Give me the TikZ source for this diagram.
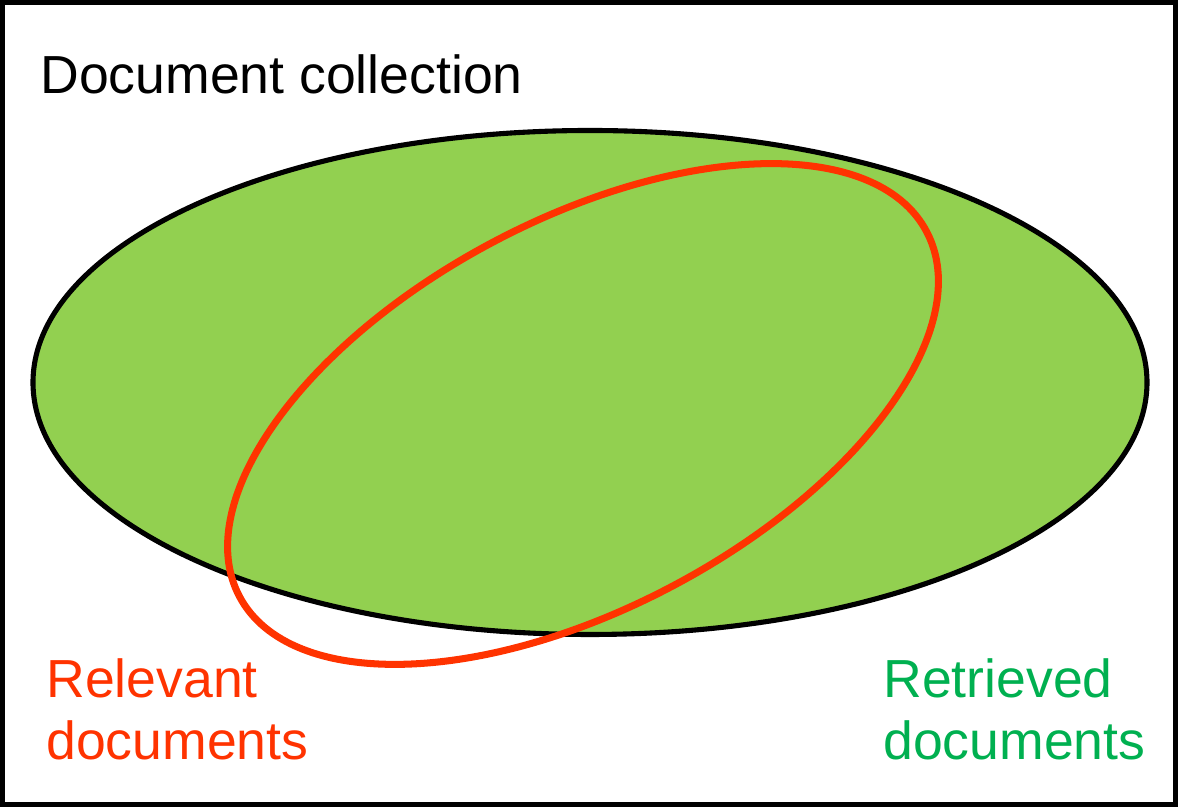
\documentclass[tikz,border=0pt]{standalone}
\usepackage{fontspec}
\setmainfont{Liberation Sans}
\usepackage{tikz}
\usetikzlibrary{calc}

\definecolor{collgreen}{HTML}{92D050}
\definecolor{relred}{HTML}{FF3300}
\definecolor{retgreen}{HTML}{00B050}

\tikzset{
    setlabel/.style={anchor=base west, inner sep=0pt, align=left,
        font=\fontsize{30.5}{35.7}\selectfont}
}

\begin{document}
\begin{tikzpicture}[x=0.02cm, y=0.02cm]
            \useasboundingbox (0,0) rectangle (1178,807);
            \draw[line width=2.8pt] (2.5,2.5) rectangle (1175.5,804.5);

            % retrieved set and relevant set
            \draw[fill=collgreen, line width=2.9pt] (590,424.5) ellipse (557 and 252);
            \draw[relred, line width=4pt, rotate around={28:(583,393)}] (583,393) ellipse (389 and 194);

            \node[setlabel] (coll) at (40,713) {Document collection};
            \node[setlabel, text=relred] (rel) at (46,47) {Relevant\\documents};
            \node[setlabel, text=retgreen] (ret) at (883,47) {Retrieved\\documents};
        \end{tikzpicture}
\end{document}
